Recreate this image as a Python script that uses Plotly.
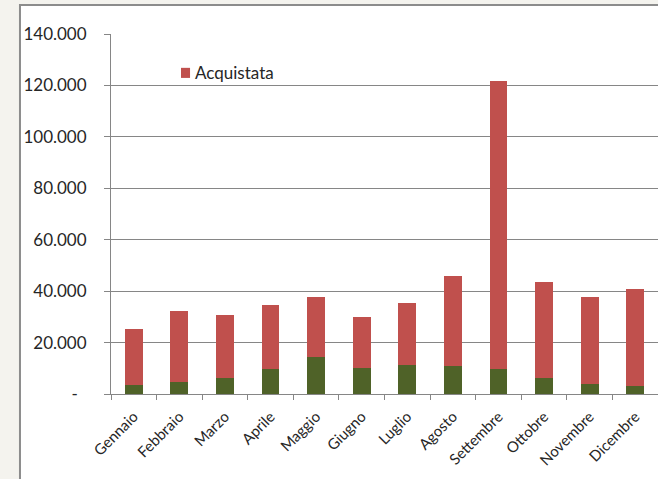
import plotly.graph_objects as go

months = ["Gennaio", "Febbraio", "Marzo", "Aprile", "Maggio", "Giugno",
          "Luglio", "Agosto", "Settembre", "Ottobre", "Novembre", "Dicembre"]
prodotta = [3400, 4700, 6400, 9600, 14300, 10100, 11400, 10900, 9600, 6400, 3900, 3000]
totale = [25100, 32100, 30900, 34600, 37600, 30100, 35400, 45800, 121700, 43500, 37600, 40700]
acquistata = [t - p for t, p in zip(totale, prodotta)]

y_tickvals = [0, 20000, 40000, 60000, 80000, 100000, 120000, 140000]
y_ticktext = ["-\u00a0\u00a0", "20.000", "40.000", "60.000", "80.000", "100.000", "120.000", "140.000"]

legend_label = "Acquistata"
RED = "#C0504D"
GREEN = "#4F6228"
FONT = "Lato, Carlito, Calibri, sans-serif"

fig = go.Figure()
fig.add_trace(go.Bar(x=months, y=prodotta, name="Prodotta", marker_color=GREEN,
                     marker_line_width=0, showlegend=False))
fig.add_trace(go.Bar(x=months, y=acquistata, name=legend_label, marker_color=RED,
                     marker_line_width=0, showlegend=False))

# chart area frame
fig.add_shape(type="rect", xref="paper", yref="paper",
              x0=-0.1664, x1=1.2, y0=-0.5, y1=1.0806,
              fillcolor="white", line=dict(color="#8C8C8C", width=2), layer="below")

# legend (Excel-style: small square + label)
fig.add_shape(type="rect", xref="paper", yref="paper",
              x0=0.128, x1=0.1445, y0=0.878, y1=0.906,
              fillcolor=RED, line=dict(width=0))
fig.add_annotation(xref="paper", yref="paper", x=0.149, y=0.893,
                   xanchor="left", yanchor="middle", showarrow=False,
                   text=legend_label, font=dict(size=17, family=FONT, color="#262626"))

fig.update_layout(
    width=658, height=479,
    barmode="stack", bargap=0.61,
    paper_bgcolor="#F4F3EE", plot_bgcolor="rgba(0,0,0,0)",
    margin=dict(l=111, r=0, t=34, b=85),
    font=dict(family=FONT, color="#262626"),
    showlegend=False,
    xaxis=dict(tickangle=-45, tickfont=dict(size=15, family=FONT),
               showline=True, linecolor="#868686", linewidth=1,
               ticks="outside", tickson="boundaries", ticklen=5, tickcolor="#868686",
               showgrid=False, ticklabelstandoff=7),
    yaxis=dict(range=[0, 140000], tickvals=y_tickvals, ticktext=y_ticktext,
               tickfont=dict(size=17, family=FONT),
               showline=True, linecolor="#868686", linewidth=1,
               ticks="outside", ticklen=6, tickcolor="#868686",
               gridcolor="#868686", gridwidth=1, zeroline=False,
               ticklabelstandoff=14),
)

fig.write_html("out.html")
